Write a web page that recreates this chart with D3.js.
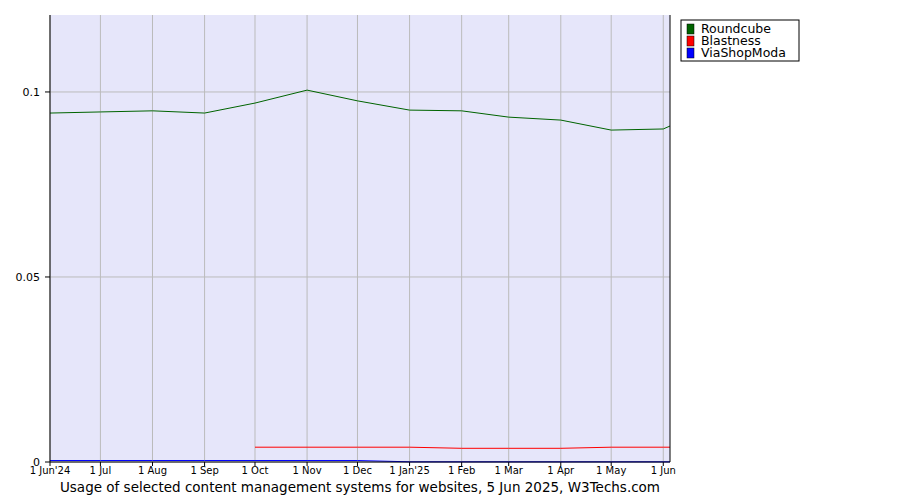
<!DOCTYPE html><html><head><meta charset="utf-8"><script src="https://cdn.jsdelivr.net/npm/d3@7"></script>
<style>body{margin:0;background:#fff}text{font-family:"DejaVu Sans",sans-serif}</style></head><body><svg id="c" width="900" height="500"></svg>
<script>
const dates=["2024-06-01","2024-07-01","2024-08-01","2024-09-01","2024-10-01","2024-11-01","2024-12-01","2025-01-01","2025-02-01","2025-03-01","2025-04-01","2025-05-01","2025-06-01","2025-06-05"];
const roundcube=[0.0943,0.0946,0.0949,0.0943,0.097,0.1005,0.0976,0.0951,0.0949,0.0932,0.0924,0.0897,0.09,0.0908];
const blastness=[null,null,null,null,0.004,0.004,0.004,0.004,0.0037,0.0037,0.0037,0.004,0.004,0.004];
const viashop=[0.0004,0.0004,0.0004,0.0004,0.0004,0.0004,0.0004,0.00005,0.00005,0.00005,0.00005,0.00005,0.00005,0.00005];
const tickLabels=["1 Jun'24","1 Jul","1 Aug","1 Sep","1 Oct","1 Nov","1 Dec","1 Jan'25","1 Feb","1 Mar","1 Apr","1 May","1 Jun"];
const yTicks=[0,0.05,0.1], yLabels=["0","0.05","0.1"];
const names=["Roundcube","Blastness","ViaShopModa"], colors=["#006400","#ff0000","#0000ff"];
const svg=d3.select("#c");
const p=d3.timeParse("%Y-%m-%d"), D=dates.map(p);
const x=d3.scaleTime().domain([D[0],D[D.length-1]]).range([50,670]);
const y=d3.scaleLinear().domain([0,0.1208]).range([462,15]);
svg.append("rect").attr("x",50).attr("y",15).attr("width",620).attr("height",447).attr("fill","#e6e6fa");
const g=svg.append("g");
D.slice(0,13).forEach((d,i)=>{g.append("line").attr("x1",x(d)).attr("x2",x(d)).attr("y1",15).attr("y2",462).attr("stroke","#bbb");
 svg.append("text").attr("x",x(d)).attr("y",474).attr("text-anchor","middle").attr("font-size",10).text(tickLabels[i]);
 svg.append("line").attr("x1",x(d)).attr("x2",x(d)).attr("y1",462).attr("y2",466).attr("stroke","#000");});
yTicks.forEach((t,i)=>{g.append("line").attr("x1",50).attr("x2",670).attr("y1",y(t)).attr("y2",y(t)).attr("stroke","#bbb");
 svg.append("text").attr("x",40).attr("y",y(t)+4).attr("text-anchor","end").attr("font-size",11).text(yLabels[i]);
 svg.append("line").attr("x1",45).attr("x2",50).attr("y1",y(t)).attr("y2",y(t)).attr("stroke","#000");});
const line=d3.line().defined(v=>v[1]!=null).x(v=>x(v[0])).y(v=>y(v[1]));
[roundcube,blastness,viashop].forEach((s,i)=>svg.append("path").attr("d",line(D.map((d,j)=>[d,s[j]]))).attr("fill","none").attr("stroke",colors[i]).attr("stroke-width",1));
svg.append("line").attr("x1",50).attr("x2",50).attr("y1",15).attr("y2",462).attr("stroke","#000");
svg.append("line").attr("x1",670).attr("x2",670).attr("y1",15).attr("y2",462).attr("stroke","#000");
svg.append("line").attr("x1",50).attr("x2",670).attr("y1",462).attr("y2",462).attr("stroke","#000");
svg.append("rect").attr("x",681).attr("y",20).attr("width",118).attr("height",41).attr("fill","#fff").attr("stroke","#000");
names.forEach((n,i)=>{svg.append("rect").attr("x",687).attr("y",24+i*12).attr("width",7).attr("height",10).attr("fill",colors[i]).attr("stroke","#000").attr("stroke-width",0.5);
 svg.append("text").attr("x",701).attr("y",33+i*12).attr("font-size",12.5).text(n);});
svg.append("text").attr("x",360).attr("y",492).attr("text-anchor","middle").attr("font-size",13.5).text("Usage of selected content management systems for websites, 5 Jun 2025, W3Techs.com");
</script></body></html>
